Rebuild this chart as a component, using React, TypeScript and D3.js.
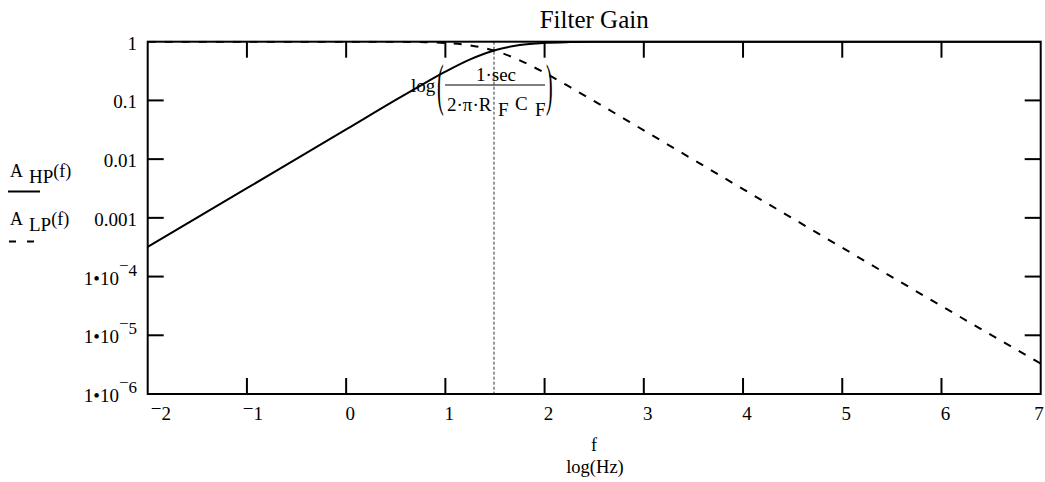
import React from "react";
import * as d3 from "d3";

// ---- data ----
const logFreq = [-2, -1, 0, 0.5, 0.75, 1, 1.25, 1.49, 1.75, 2, 2.25, 2.5, 3, 4, 5, 6, 7];
const gainHP = [3.2e-4, 3.2e-3, 0.032, 0.102, 0.179, 0.308, 0.499, 0.707, 0.877, 0.955, 0.985, 0.995, 1, 1, 1, 1, 1];
const gainLP = [1, 1, 1, 0.995, 0.984, 0.951, 0.867, 0.707, 0.482, 0.295, 0.171, 0.0973, 0.0309, 0.00309, 3.1e-4, 3.15e-5, 3.3e-6];
const cutoffLog = 1.49;
const xTicks = [-2, -1, 0, 1, 2, 3, 4, 5, 6, 7];
const yTicks = [1, 0.1, 0.01, 0.001, 1e-4, 1e-5, 1e-6];
const yTickBase = ["1", "0.1", "0.01", "0.001", "1•10", "1•10", "1•10"];
const yTickExp = ["", "", "", "", "4", "5", "6"];

const FONT = "'Liberation Serif', 'Times New Roman', serif";

export default function App() {
  const left = 147.7, right = 1040.7, top = 41.7, bottom = 394;
  const x = d3.scaleLinear().domain([-2, 7]).range([left, right]);
  const y = d3.scaleLog().domain([1e-6, 1]).range([bottom, top]);
  const line = d3
    .line<number>()
    .x((_, i) => x(logFreq[i]))
    .y((d) => y(d))
    .curve(d3.curveMonotoneX);
  const tickLen = 16;
  const xc = x(cutoffLog);

  return (
    <svg
      width={1045}
      height={482}
      style={{ position: "absolute", left: 0, top: 0, background: "#fff" }}
      fontFamily={FONT}
    >
      <defs>
        <clipPath id="plotclip">
          <rect x={left} y={top - 1} width={right - left} height={bottom - top + 2} />
        </clipPath>
      </defs>
      <rect width={1045} height={482} fill="#fff" />

      {/* title */}
      <text x={(left + right) / 2} y={28} fontSize={25} textAnchor="middle">
        Filter Gain
      </text>

      {/* cutoff marker */}
      <line x1={xc} x2={xc} y1={top} y2={bottom} stroke="#333" strokeWidth={1} strokeDasharray="3,2" />

      {/* curves */}
      <g clipPath="url(#plotclip)">
        <path d={line(gainLP) || ""} fill="none" stroke="#000" strokeWidth={2} strokeDasharray="8,9" />
        <path d={line(gainHP) || ""} fill="none" stroke="#000" strokeWidth={2} />
      </g>

      {/* frame */}
      <rect x={left} y={top} width={right - left} height={bottom - top} fill="none" stroke="#000" strokeWidth={2} />

      {/* x ticks */}
      {xTicks.map((t, i) => {
        const px = x(t);
        const inner = i > 0 && i < xTicks.length - 1;
        return (
          <g key={"xt" + t}>
            {inner && (
              <>
                <line x1={px} x2={px} y1={bottom} y2={bottom - tickLen} stroke="#000" strokeWidth={2} />
                <line x1={px} x2={px} y1={top} y2={top + tickLen} stroke="#000" strokeWidth={2} />
              </>
            )}
            {t < 0 ? (
              <text
                x={i === 0 ? px + 3 : px + 6}
                y={420}
                fontSize={19}
                textAnchor={i === 0 ? "start" : "middle"}
              >
                <tspan dy={-5}>−</tspan>
                <tspan dy={5}>{Math.abs(t)}</tspan>
              </text>
            ) : (
              <text
                x={i === xTicks.length - 1 ? px + 3 : px + 4}
                y={420}
                fontSize={19}
                textAnchor={i === xTicks.length - 1 ? "end" : "middle"}
              >
                {t}
              </text>
            )}
          </g>
        );
      })}

      {/* y ticks */}
      {yTicks.map((t, i) => {
        const py = y(t);
        const inner = i > 0 && i < yTicks.length - 1;
        return (
          <g key={"yt" + i}>
            {inner && (
              <>
                <line x1={left} x2={left + tickLen} y1={py} y2={py} stroke="#000" strokeWidth={2} />
                <line x1={right} x2={right - tickLen} y1={py} y2={py} stroke="#000" strokeWidth={2} />
              </>
            )}
            {yTickExp[i] ? (
              <text x={137} y={py + 8} fontSize={19} textAnchor="end">
                {yTickBase[i]}
                <tspan fontSize={17} dy={-14}>−</tspan>
                <tspan fontSize={17} dy={5}>{yTickExp[i]}</tspan>
              </text>
            ) : (
              <text x={137} y={py + 8} fontSize={19} textAnchor="end">
                {yTickBase[i]}
              </text>
            )}
          </g>
        );
      })}

      {/* axis label */}
      <text x={594} y={451} fontSize={18} textAnchor="middle">f</text>
      <text x={595} y={473} fontSize={18.5} textAnchor="middle">log(Hz)</text>

      {/* legend */}
      <text x={10} y={176.5} fontSize={18}>
        A
        <tspan x={29} dy={6} fontSize={19}>HP</tspan>
        <tspan dy={-6} fontSize={18}>(f)</tspan>
      </text>
      <line x1={8} x2={40} y1={191.5} y2={191.5} stroke="#000" strokeWidth={2} />
      <text x={10} y={225} fontSize={18}>
        A
        <tspan x={29} dy={6} fontSize={19}>LP</tspan>
        <tspan dy={-6} fontSize={18}>(f)</tspan>
      </text>
      <line x1={9} x2={34} y1={241.5} y2={241.5} stroke="#000" strokeWidth={2} strokeDasharray="7,11" />

      {/* cutoff annotation */}
      <g fontSize={19}>
        <text x={411} y={92}>log</text>
        <text transform="translate(437,104) scale(1,2.9)" fontSize={20}>(</text>
        <text x={496} y={81} textAnchor="middle">1·sec</text>
        <line x1={445} x2={545} y1={85} y2={85} stroke="#000" strokeWidth={1} />
        <text x={447} y={111}>2·π·R</text>
        <text x={498} y={116}>F</text>
        <text x={515} y={110}>C</text>
        <text x={535} y={116}>F</text>
        <text transform="translate(546,104) scale(1,2.9)" fontSize={20}>)</text>
      </g>
    </svg>
  );
}
